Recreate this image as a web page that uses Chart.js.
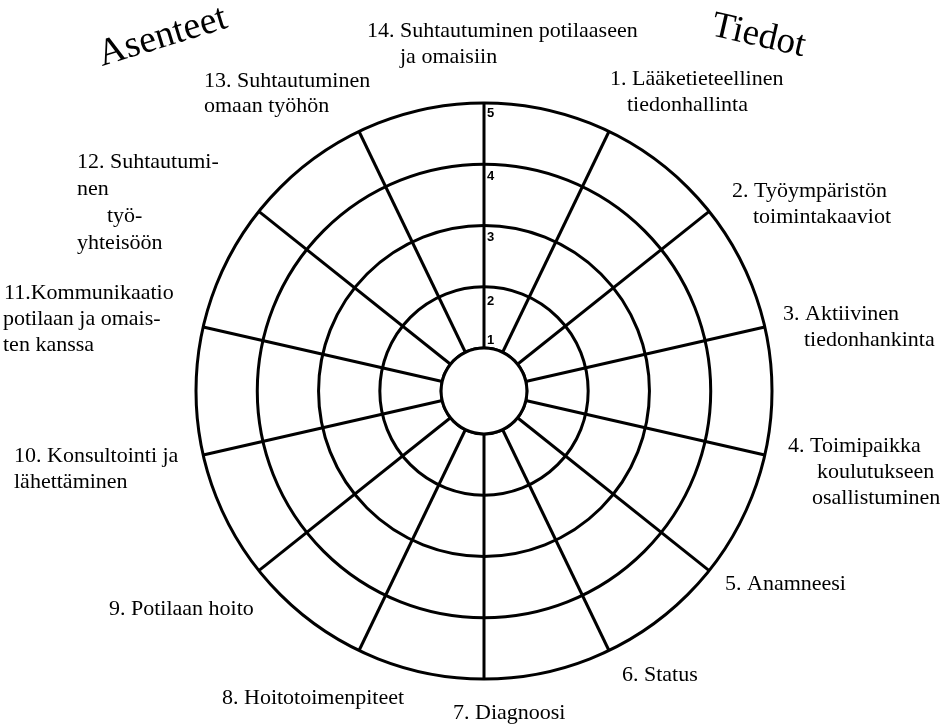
<!DOCTYPE html>
<html lang="fi">
<head>
<meta charset="UTF-8">
<title>Asenteet ja tiedot</title>
<script src="https://cdn.jsdelivr.net/npm/chart.js@4.4.1/dist/chart.umd.min.js"></script>
<style>
  body {
    margin: 0;
    background: #fff;
  }
  #kaavio {
    position: relative;
    width: 945px;
    height: 728px;
  }
</style>
</head>
<body>
<div id="kaavio"><canvas id="ympyra"></canvas></div>
<script>
// osa-alueet, myotapaivaan ylhaalta alkaen
const categories = [
  ["14. Suhtautuminen potilaaseen", "ja omaisiin"],
  ["1. Lääketieteellinen", "tiedonhallinta"],
  ["2. Työympäristön", "toimintakaaviot"],
  ["3. Aktiivinen", "tiedonhankinta"],
  ["4. Toimipaikka", "koulutukseen", "osallistuminen"],
  ["5. Anamneesi"],
  ["6. Status"],
  ["7. Diagnoosi"],
  ["8. Hoitotoimenpiteet"],
  ["9. Potilaan hoito"],
  ["10. Konsultointi ja", "lähettäminen"],
  ["11.Kommunikaatio", "potilaan ja omais-", "ten kanssa"],
  ["12. Suhtautumi-", "nen", "työ-", "yhteisöön"],
  ["13. Suhtautuminen", "omaan työhön"],
];

const ringValues = [1, 2, 3, 4, 5];
const ringLabels = ["1", "2", "3", "4", "5"];
const innerCircle = [1, 1, 1, 1, 1, 1, 1, 1, 1, 1, 1, 1, 1, 1];
const cornerTitles = ["Asenteet", "Tiedot"];

const scaleMin = 0.3;
const scaleMax = 5;

// tekstien paikat (ulkoasu, ei dataa)
const labelPlaces = [
  { x: 367, y: 37, dx: [0, 33] },
  { x: 610, y: 85, dx: [0, 17] },
  { x: 732, y: 197, dx: [0, 21] },
  { x: 783, y: 320, dx: [0, 21] },
  { x: 788, y: 452, dx: [0, 29, 24] },
  { x: 725, y: 590 },
  { x: 622, y: 681 },
  { x: 453, y: 719 },
  { x: 222, y: 704 },
  { x: 109, y: 615 },
  { x: 14, y: 462 },
  { x: 4, y: 299, dx: [0, -1, -1] },
  { x: 77, y: 168, dx: [0, 0, 30, 0], lh: 27 },
  { x: 204, y: 87, lh: 25 },
];
const titlePlaces = [
  { x: 102, y: 66, angle: -17, size: 38 },
  { x: 710, y: 35, angle: 13, size: 37 },
];
const numberShift = [0.13, -0.24, -0.19, -0.2, -0.17];

const labelPlugin = {
  id: "tekstit",
  afterDraw(chart) {
    const ctx = chart.ctx;
    ctx.save();
    ctx.fillStyle = "#000";
    ctx.textAlign = "left";
    ctx.textBaseline = "alphabetic";
    ctx.font = "22px 'Liberation Serif', 'Times New Roman', serif";

    categories.forEach((lines, i) => {
      const place = labelPlaces[i];
      const lineHeight = place.lh || 26;
      lines.forEach((line, j) => {
        const dx = place.dx ? place.dx[j] : 0;
        ctx.fillText(line, place.x + dx, place.y + j * lineHeight);
      });
    });

    cornerTitles.forEach((title, i) => {
      const place = titlePlaces[i];
      ctx.save();
      ctx.translate(place.x, place.y);
      ctx.rotate((place.angle * Math.PI) / 180);
      ctx.font = `${place.size}px 'Liberation Serif', 'Times New Roman', serif`;
      ctx.fillText(title, 0, 0);
      ctx.restore();
    });

    ctx.restore();
  },
};

const canvas = document.getElementById("ympyra").getContext("2d");

new Chart(canvas, {
  type: "radar",
  data: {
    labels: categories,
    datasets: [
      {
        label: "sisäympyrä",
        data: innerCircle,
        borderColor: "#000",
        borderWidth: 3,
        backgroundColor: "#fff",
        fill: true,
        tension: 0.35,
        pointRadius: 0,
        pointHoverRadius: 0,
      },
    ],
  },
  options: {
    responsive: true,
    maintainAspectRatio: false,
    animation: false,
    layout: {
      padding: { left: 187, right: 164, top: 94, bottom: 40 },
    },
    plugins: {
      legend: { display: false },
      tooltip: { enabled: false },
    },
    scales: {
      r: {
        min: scaleMin,
        max: scaleMax,
        startAngle: 0,
        afterBuildTicks: (scale) => {
          const rings = ringValues.map((v) => ({ value: v }));
          const numbers = ringValues.map((v, i) => ({
            value: v + numberShift[i],
            text: "\u2002\u2002" + ringLabels[i],
          }));
          scale.ticks = [{ value: scaleMin }].concat(rings, numbers);
        },
        grid: {
          circular: true,
          lineWidth: 3,
          color: (c) => (c.tick && c.tick.text ? "rgba(0,0,0,0)" : "#000"),
        },
        angleLines: {
          color: "#000",
          lineWidth: 3,
        },
        pointLabels: {
          display: false,
        },
        ticks: {
          showLabelBackdrop: false,
          backdropPadding: 2,
          color: "#000",
          font: {
            family: "'Liberation Sans', Arial, sans-serif",
            size: 13,
            weight: "bold",
          },
          callback: (value, index, ticks) => ticks[index].text || "",
        },
      },
    },
  },
  plugins: [labelPlugin],
});
</script>
</body>
</html>
